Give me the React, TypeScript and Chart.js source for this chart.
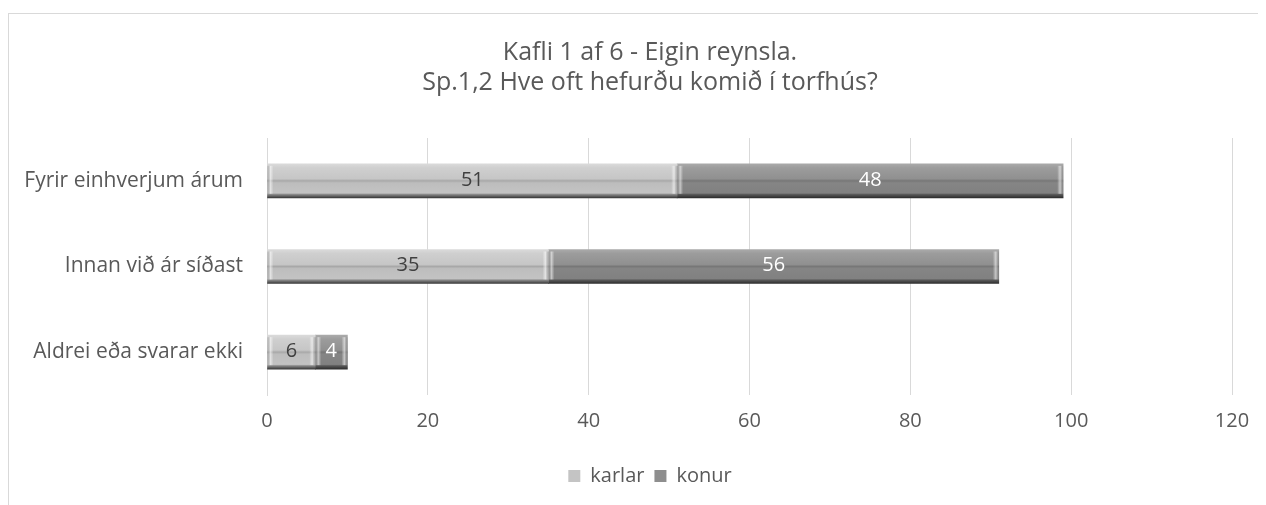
import React, { useEffect, useRef } from "react";
import { Chart, registerables } from "chart.js";

Chart.register(...registerables);

const titleLines = ["Kafli 1 af 6 - Eigin reynsla.", "Sp.1,2 Hve oft hefurðu komið í torfhús?"];
const categories = ["Fyrir einhverjum árum", "Innan við ár síðast", "Aldrei eða svarar ekki"];
const karlar = [51, 35, 6];
const konur = [48, 56, 4];
const seriesNames = ["karlar", "konur"];
const xTicks = [0, 20, 40, 60, 80, 100, 120];

const FONT = "'Open Sans', 'Noto Sans', sans-serif";
const TEXT = "#595959";
const BAR_T = 34;
const FS = 20;

const lightStops: [number, string][] = [
  [0, "#dadada"], [0.12, "#cfcfcf"], [0.44, "#c6c6c6"], [0.5, "#a8a8a8"], [0.56, "#bdbdbd"],
  [0.86, "#c3c3c3"], [0.9, "#8a8a8a"], [1, "#3a3a3a"],
];
const darkStops: [number, string][] = [
  [0, "#aaaaaa"], [0.12, "#9c9c9c"], [0.44, "#909090"], [0.5, "#777777"], [0.56, "#858585"],
  [0.86, "#818181"], [0.9, "#5a5a5a"], [1, "#2e2e2e"],
];

function gradFor(stops: [number, string][], fallback: string) {
  return (ctx: any) => {
    const chart = ctx.chart;
    if (!chart.chartArea || !chart.scales.y) return fallback;
    const y = chart.scales.y.getPixelForValue(ctx.dataIndex);
    const g = chart.ctx.createLinearGradient(0, y - BAR_T / 2, 0, y + BAR_T / 2);
    stops.forEach(([o, c]) => g.addColorStop(o, c));
    return g;
  };
}

const labelPlugin = {
  id: "valueLabels",
  afterDatasetsDraw(chart: any) {
    const c = chart.ctx;
    chart.data.datasets.forEach((ds: any, di: number) => {
      const meta = chart.getDatasetMeta(di);
      meta.data.forEach((bar: any, i: number) => {
        const left = Math.min(bar.x, bar.base);
        const right = Math.max(bar.x, bar.base);
        const top = bar.y - BAR_T / 2;
        const h = BAR_T - 4;
        const edge = (x: number, dir: number) => {
          const g = c.createLinearGradient(x, 0, x + dir * 6, 0);
          g.addColorStop(0, "rgba(255,255,255,0.0)");
          g.addColorStop(0.5, "rgba(255,255,255,0.55)");
          g.addColorStop(1, "rgba(120,120,120,0.35)");
          c.fillStyle = g;
          c.fillRect(Math.min(x, x + dir * 6), top + 2, 6, h - 2);
        };
        c.save();
        edge(right - 6, 1);
        edge(left + 6, -1);
        c.restore();
        c.save();
        c.font = `${FS}px ${FONT}`;
        c.fillStyle = di === 0 ? "#404040" : "#ffffff";
        c.textAlign = "center";
        c.textBaseline = "middle";
        c.fillText(String(ds.data[i]), (left + right) / 2, bar.y - 1);
        c.restore();
      });
    });
  },
};

export default function App() {
  const ref = useRef<HTMLCanvasElement>(null);
  useEffect(() => {
    if (!ref.current) return;
    const chart = new Chart(ref.current, {
      type: "bar",
      data: {
        labels: categories,
        datasets: [
          {
            label: seriesNames[0],
            data: karlar,
            backgroundColor: gradFor(lightStops, "#c4c4c4") as any,
            borderWidth: 0,
            barThickness: BAR_T,
          },
          {
            label: seriesNames[1],
            data: konur,
            backgroundColor: gradFor(darkStops, "#8e8e8e") as any,
            borderWidth: 0,
            barThickness: BAR_T,
          },
        ],
      },
      options: {
        indexAxis: "y",
        responsive: false,
        animation: false,
        devicePixelRatio: 1,
        layout: { padding: 0 },
        plugins: {
          title: {
            display: true,
            text: titleLines,
            color: TEXT,
            font: { family: FONT, size: 25, weight: "normal", lineHeight: 1.2 },
            padding: { top: 24, bottom: 40 },
          },
          legend: {
            position: "bottom",
            labels: {
              color: TEXT,
              font: { family: FONT, size: FS },
              boxWidth: 12,
              boxHeight: 12,
              padding: 10,
              generateLabels: () => [
                { text: seriesNames[0], fillStyle: "#c4c4c4", strokeStyle: "#c4c4c4", lineWidth: 0, datasetIndex: 0, fontColor: TEXT },
                { text: seriesNames[1], fillStyle: "#8e8e8e", strokeStyle: "#8e8e8e", lineWidth: 0, datasetIndex: 1, fontColor: TEXT },
              ] as any,
            },
          },
          tooltip: { enabled: false },
        },
        scales: {
          x: {
            stacked: true,
            min: 0,
            max: 120,
            afterBuildTicks: (s: any) => {
              s.ticks = xTicks.map((v) => ({ value: v }));
            },
            grid: { color: "#d9d9d9", drawTicks: false },
            border: { display: false },
            ticks: { color: TEXT, font: { family: FONT, size: FS }, padding: 14 },
            afterFit: (s: any) => {
              s.height = 61;
            },
          },
          y: {
            stacked: true,
            grid: { display: false, drawTicks: false },
            border: { display: true, color: "#d9d9d9" },
            ticks: { color: TEXT, font: { family: FONT, size: 21 }, padding: 24 },
            afterFit: (s: any) => {
              s.width = 258;
            },
          },
          yR: {
            type: "category",
            position: "right",
            labels: categories,
            grid: { display: false, drawTicks: false },
            border: { display: false },
            ticks: { display: false },
            afterFit: (s: any) => {
              s.width = 59;
            },
          },
        },
      },
      plugins: [labelPlugin],
    });
    return () => chart.destroy();
  }, []);

  return (
    <div style={{ width: 1258, height: 497, overflow: "hidden", position: "relative" }}>
      <div
        style={{
          position: "absolute",
          left: 0,
          top: 5,
          width: 1400,
          height: 600,
          borderLeft: "1px solid #d9d9d9",
          borderTop: "1px solid #d9d9d9",
          background: "#fff",
        }}
      >
        <canvas ref={ref} width={1282} height={482} style={{ display: "block" }} />
      </div>
    </div>
  );
}
